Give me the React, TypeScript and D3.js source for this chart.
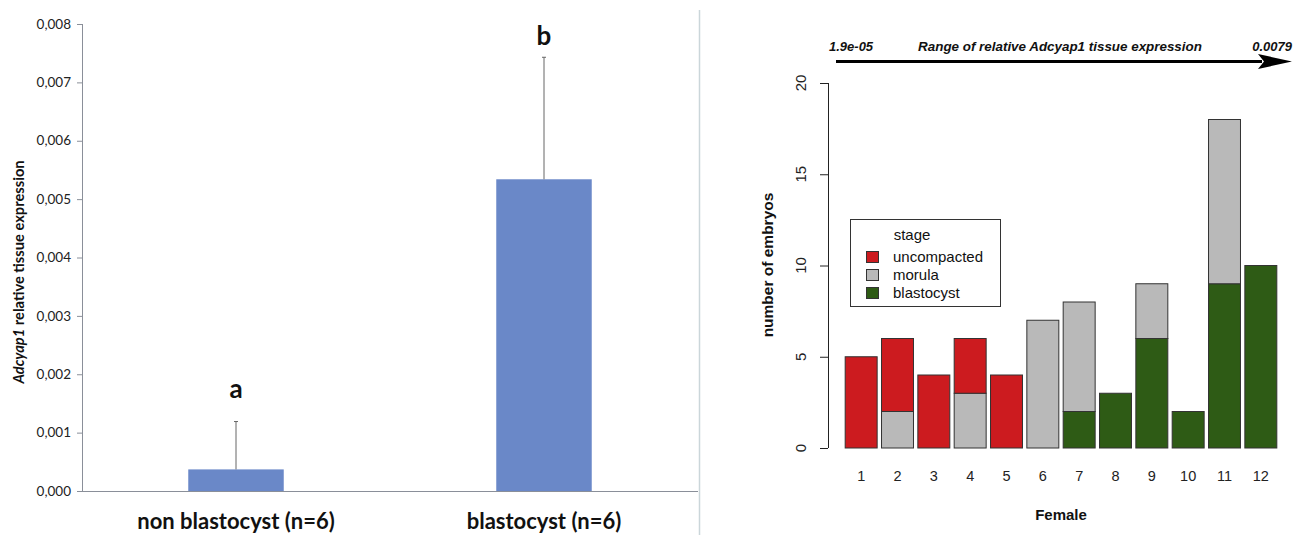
import React from 'react';
import * as d3 from 'd3';

// left panel: expression
const groups = ['non blastocyst (n=6)', 'blastocyst (n=6)'];
const means = [0.00037, 0.00534];
const errors = [0.00082, 0.00209];
const letters = ['a', 'b'];
const letterLevel = [0.0016, 0.00764];
const exprTicks = [0, 0.001, 0.002, 0.003, 0.004, 0.005, 0.006, 0.007, 0.008];

// right panel: embryos per female
const females = ['1', '2', '3', '4', '5', '6', '7', '8', '9', '10', '11', '12'];
const stages = ['blastocyst', 'morula', 'uncompacted'];
const blastocyst = [0, 0, 0, 0, 0, 0, 2, 3, 6, 2, 9, 10];
const morula = [0, 2, 0, 3, 0, 7, 6, 0, 3, 0, 9, 0];
const uncompacted = [5, 4, 4, 3, 4, 0, 0, 0, 0, 0, 0, 0];
const embryoTicks = [0, 5, 10, 15, 20];
const legendOrder = ['uncompacted', 'morula', 'blastocyst'];

const stageColor = { uncompacted: '#cc1b1f', morula: '#b9b9b9', blastocyst: '#2e5b15' };

function App() {
  const W = 1301, H = 535;

  // left scales
  const y1 = d3.scaleLinear().domain([0, 0.008]).range([491, 24]);
  const x1 = d3.scaleBand().domain(groups).range([82, 698]).paddingInner(0.69).paddingOuter(0.345);
  const fmt = (v) => d3.format('.3f')(v).replace('.', ',');

  // right scales
  const x2 = d3.scaleBand().domain(females).range([843, 1279]).paddingInner(0.12).paddingOuter(0.06);
  const y2 = d3.scaleLinear().domain([0, 20]).range([448, 83]);

  const table = females.map((f, i) => ({ female: f, blastocyst: blastocyst[i], morula: morula[i], uncompacted: uncompacted[i] }));
  const series = d3.stack().keys(stages)(table);

  const fontL = 'Lato, "Open Sans", sans-serif';
  const fontR = '"Liberation Sans", Arial, sans-serif';

  return (
    <svg width={W} height={H} style={{ position: 'absolute', left: 0, top: 0, background: '#fff' }}>
      {/* separator */}
      <line x1={699.5} x2={699.5} y1={10} y2={H} stroke="#cbd6da" strokeWidth={1.5} />

      {/* ===== left chart ===== */}
      <line x1={82.5} x2={82.5} y1={y1(0.008)} y2={y1(0)} stroke="#8a8f99" />
      <line x1={82} x2={698} y1={y1(0) + 0.5} y2={y1(0) + 0.5} stroke="#8a8f99" />
      {exprTicks.map((t) => (
        <g key={t}>
          <line x1={77} x2={82} y1={y1(t) + 0.5} y2={y1(t) + 0.5} stroke="#8a8f99" />
          <text x={71} y={y1(t)} dy="0.35em" textAnchor="end" fontFamily={fontL} fontSize={13.5} fill="#222">{fmt(t)}</text>
        </g>
      ))}
      {groups.map((g, i) => {
        const cx = x1(g) + x1.bandwidth() / 2;
        return (
          <g key={g}>
            <rect x={x1(g)} y={y1(means[i])} width={x1.bandwidth()} height={y1(0) - y1(means[i])} fill="#6a88c8" />
            <line x1={cx} x2={cx} y1={y1(means[i])} y2={y1(means[i] + errors[i])} stroke="#666" />
            <line x1={cx - 2} x2={cx + 2} y1={y1(means[i] + errors[i])} y2={y1(means[i] + errors[i])} stroke="#666" />
            <text x={cx} y={y1(letterLevel[i])} textAnchor="middle" fontFamily={fontL} fontWeight="bold" fontSize={26} fill="#111">{letters[i]}</text>
            <text x={cx} y={529} textAnchor="middle" fontFamily={fontL} fontWeight="bold" fontSize={22} fill="#111">{g}</text>
          </g>
        );
      })}
      <text transform="translate(24,272) rotate(-90)" textAnchor="middle" fontFamily={fontL} fontWeight="bold" fontSize={14.7} fill="#111">
        <tspan fontStyle="italic">Adcyap1</tspan> relative tissue expression
      </text>

      {/* ===== right chart ===== */}
      <text x={829} y={51} fontFamily={fontR} fontWeight="bold" fontStyle="italic" fontSize={13} fill="#111">1.9e-05</text>
      <text x={1060} y={51} textAnchor="middle" fontFamily={fontR} fontWeight="bold" fontStyle="italic" fontSize={13.4} fill="#111">Range of relative Adcyap1 tissue expression</text>
      <text x={1292} y={51} textAnchor="end" fontFamily={fontR} fontWeight="bold" fontStyle="italic" fontSize={13} fill="#111">0.0079</text>
      <line x1={836} x2={1262} y1={61.5} y2={61.5} stroke="#000" strokeWidth={3} />
      <path d="M1258,54 L1292,61.5 L1258,69 L1264,61.5 Z" fill="#000" />

      <line x1={828.5} x2={828.5} y1={y2(0)} y2={y2(20)} stroke="#222" />
      {embryoTicks.map((t) => (
        <g key={t}>
          <line x1={820} x2={828} y1={y2(t) + 0.5} y2={y2(t) + 0.5} stroke="#222" />
          <text transform={`translate(806,${y2(t)}) rotate(-90)`} textAnchor="middle" fontFamily={fontR} fontSize={15} fill="#222">{t}</text>
        </g>
      ))}
      <text transform="translate(773,265) rotate(-90)" textAnchor="middle" fontFamily={fontR} fontWeight="bold" fontSize={15.5} fill="#111">number of embryos</text>

      {series.map((s) => (
        <g key={s.key} fill={stageColor[s.key]}>
          {s.map((d, i) => d[1] > d[0] ? (
            <rect key={i} x={x2(d.data.female)} y={y2(d[1])} width={x2.bandwidth()} height={y2(d[0]) - y2(d[1])} stroke="#333" strokeWidth={1} />
          ) : null)}
        </g>
      ))}
      {females.map((f) => (
        <text key={f} x={x2(f) + x2.bandwidth() / 2} y={481} textAnchor="middle" fontFamily={fontR} fontSize={14.5} fill="#222">{f}</text>
      ))}
      <text x={(x2.range()[0] + x2.range()[1]) / 2} y={520} textAnchor="middle" fontFamily={fontR} fontWeight="bold" fontSize={15} fill="#111">Female</text>

      {/* legend */}
      <rect x={850.5} y={219.5} width={150} height={87} fill="#fff" stroke="#333" />
      <text x={912} y={240} textAnchor="middle" fontFamily={fontR} fontSize={15} fill="#111">stage</text>
      {legendOrder.map((k, i) => (
        <g key={k}>
          <rect x={866.5} y={251.5 + i * 18} width={12} height={11} fill={stageColor[k]} stroke="#333" />
          <text x={893} y={257 + i * 18} dy="0.35em" fontFamily={fontR} fontSize={15} fill="#111">{k}</text>
        </g>
      ))}
    </svg>
  );
}

export default App;
